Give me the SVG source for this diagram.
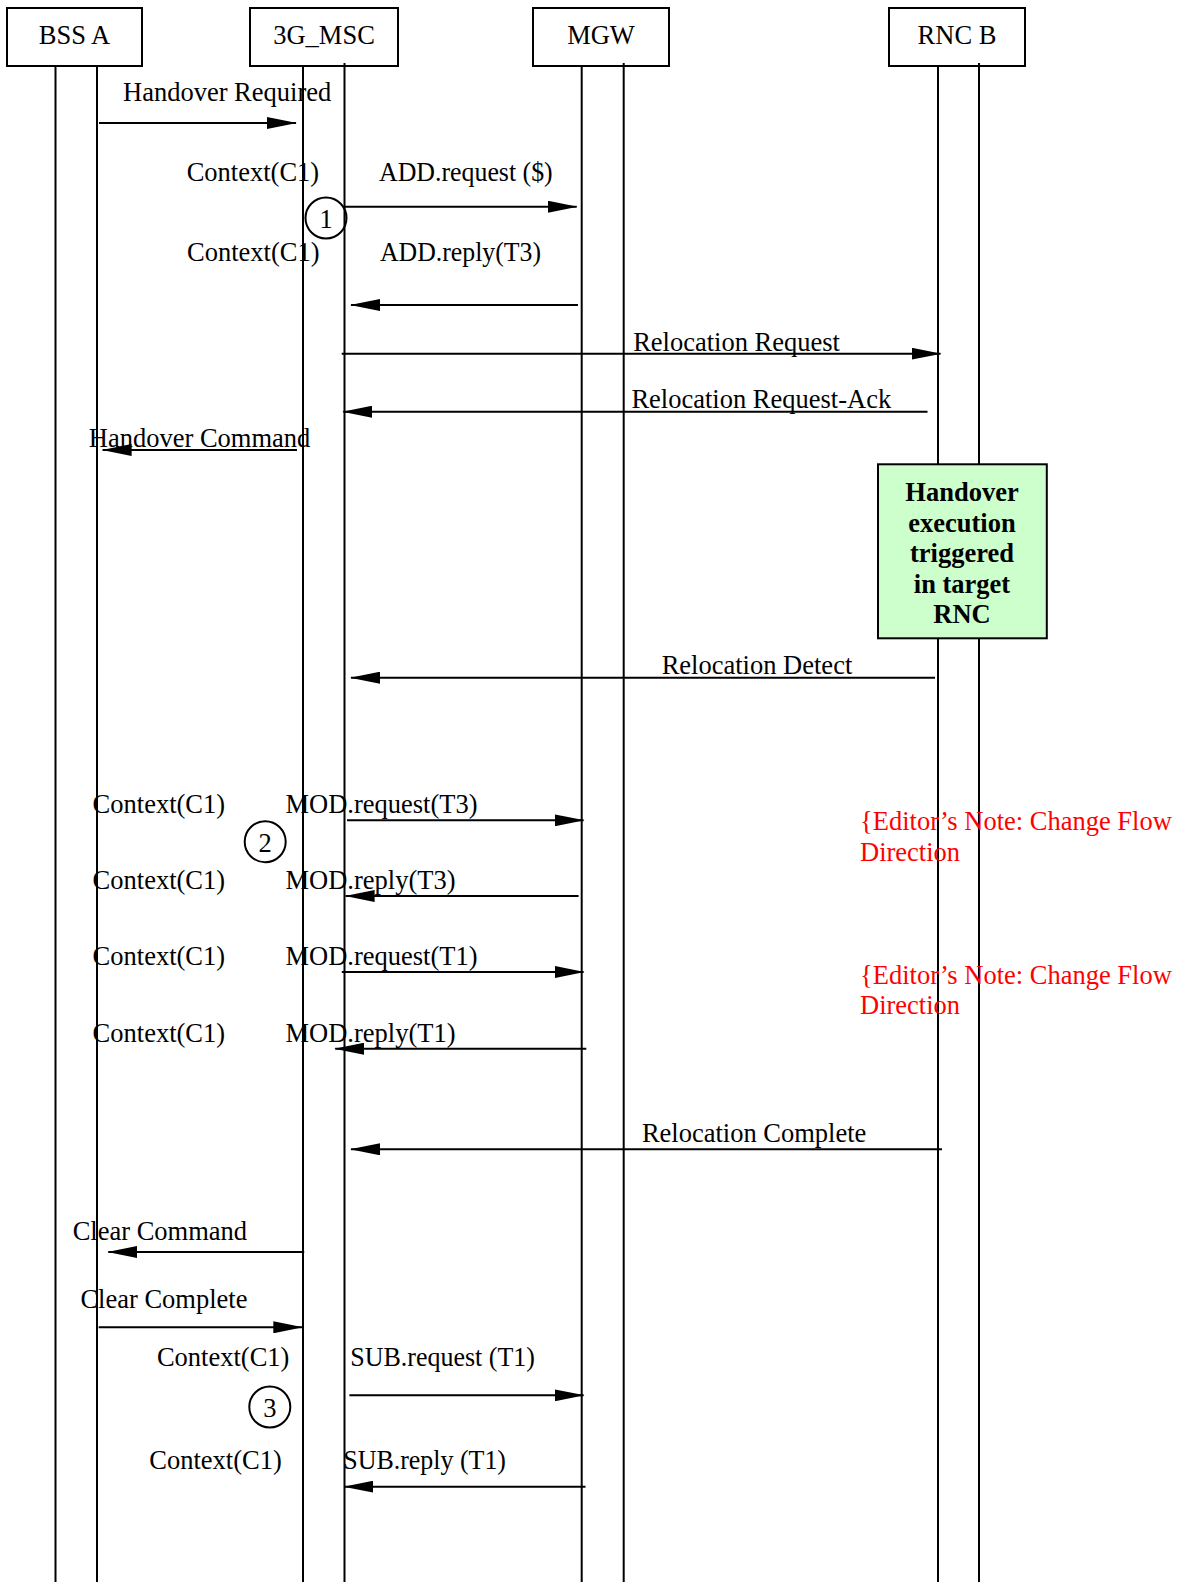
<svg xmlns="http://www.w3.org/2000/svg" width="1179" height="1582" viewBox="0 0 1179 1582">
  <style>
    text { font-family: "Liberation Serif", "Times New Roman", serif; font-size: 26.5px; fill: #000; }
    .hdr { text-anchor: middle; }
    .note { fill: #ff0000; }
    .bold { font-weight: bold; text-anchor: middle; }
    .box { fill: #fff; stroke: #000; stroke-width: 2; }
    .life { stroke: #000; stroke-width: 2; fill: none; }
    .msg { stroke: #000; stroke-width: 2; fill: none; marker-end: url(#head); }
    .step { fill: none; stroke: #000; stroke-width: 2; }
    .action { fill: #ccffcc; stroke: #000; stroke-width: 2; }
  </style>
  <defs>
    <marker id="head" markerUnits="userSpaceOnUse" markerWidth="30" markerHeight="12" refX="29" refY="6" orient="auto">
      <path d="M0,0 L30,6 L0,12 z" fill="#000"/>
    </marker>
  </defs>
  <rect width="1179" height="1582" fill="#fff"/>

  <!-- participants with their lifelines -->
  <g id="bss-a">
    <line class="life" x1="55.5" y1="66" x2="55.5" y2="1582"/>
    <line class="life" x1="97" y1="66" x2="97" y2="1582"/>
    <rect class="box" x="7" y="8" width="135" height="58"/>
    <text class="hdr" x="74.5" y="44.3">BSS A</text>
  </g>
  <g id="msc">
    <line class="life" x1="303" y1="66" x2="303" y2="1582"/>
    <rect class="box" x="250" y="8" width="148" height="58"/>
    <line class="life" x1="344.5" y1="63" x2="344.5" y2="1582"/>
    <text class="hdr" x="324" y="44.3">3G_MSC</text>
  </g>
  <g id="mgw">
    <line class="life" x1="581.7" y1="66" x2="581.7" y2="1582"/>
    <rect class="box" x="533" y="8" width="136" height="58"/>
    <line class="life" x1="623.7" y1="63" x2="623.7" y2="1582"/>
    <text class="hdr" x="601" y="44.3">MGW</text>
  </g>
  <g id="rnc-b">
    <line class="life" x1="938" y1="66" x2="938" y2="1582"/>
    <rect class="box" x="889" y="8" width="136" height="58"/>
    <line class="life" x1="979" y1="63" x2="979" y2="1582"/>
    <text class="hdr" x="957" y="44.3">RNC B</text>
  </g>

  <!-- action box on RNC B -->
  <g id="handover-execution">
    <rect class="action" x="878" y="464.3" width="168.8" height="174"/>
    <text class="bold" x="962" y="501">Handover</text>
    <text class="bold" x="962" y="531.5">execution</text>
    <text class="bold" x="962" y="562">triggered</text>
    <text class="bold" x="962" y="592.5">in target</text>
    <text class="bold" x="962" y="623">RNC</text>
  </g>

  <!-- numbered step markers -->
  <g id="step-1">
    <circle class="step" cx="326" cy="218" r="20.5"/>
    <text x="326" y="228" text-anchor="middle">1</text>
  </g>
  <g id="step-2">
    <circle class="step" cx="265.2" cy="841.7" r="20.5"/>
    <text x="265.2" y="851.7" text-anchor="middle">2</text>
  </g>
  <g id="step-3">
    <circle class="step" cx="269.8" cy="1407" r="20.5"/>
    <text x="269.8" y="1417" text-anchor="middle">3</text>
  </g>

  <!-- messages -->
  <g id="connectors">
    <line class="msg" x1="99" y1="123" x2="296" y2="123"/>
    <line class="msg" x1="344" y1="206.7" x2="576.7" y2="206.7"/>
    <line class="msg" x1="578" y1="305" x2="351" y2="305"/>
    <line class="msg" x1="341.7" y1="353.7" x2="940.5" y2="353.7"/>
    <line class="msg" x1="927.5" y1="411.7" x2="343.3" y2="411.7"/>
    <line class="msg" x1="297" y1="450" x2="102.6" y2="450"/>
    <line class="msg" x1="935" y1="677.7" x2="351" y2="677.7"/>
    <line class="msg" x1="347" y1="820.3" x2="583.6" y2="820.3"/>
    <line class="msg" x1="578.6" y1="896" x2="345.6" y2="896"/>
    <line class="msg" x1="341.8" y1="972" x2="583.6" y2="972"/>
    <line class="msg" x1="586.3" y1="1048.7" x2="335.2" y2="1048.7"/>
    <line class="msg" x1="942" y1="1149.3" x2="351" y2="1149.3"/>
    <line class="msg" x1="304.2" y1="1252" x2="108.3" y2="1252"/>
    <line class="msg" x1="98.7" y1="1327.3" x2="302.3" y2="1327.3"/>
    <line class="msg" x1="349.4" y1="1395.3" x2="583.6" y2="1395.3"/>
    <line class="msg" x1="585.5" y1="1486.7" x2="344.4" y2="1486.7"/>
  </g>

  <!-- message labels -->
  <g id="labels">
    <text x="123" y="101">Handover Required</text>
    <text x="186.7" y="181">Context(C1)</text>
    <text x="379" y="181" textLength="173.7" lengthAdjust="spacingAndGlyphs">ADD.request ($)</text>
    <text x="187" y="261">Context(C1)</text>
    <text x="380" y="261" textLength="161" lengthAdjust="spacingAndGlyphs">ADD.reply(T3)</text>
    <text x="633.2" y="351">Relocation Request</text>
    <text x="631.4" y="408.3">Relocation Request-Ack</text>
    <text x="88.8" y="446.7">Handover Command</text>
    <text x="661.7" y="674.2">Relocation Detect</text>
    <text x="92.6" y="812.7">Context(C1)</text>
    <text x="285.5" y="812.7">MOD.request(T3)</text>
    <text x="92.6" y="888.7">Context(C1)</text>
    <text x="285.5" y="888.7">MOD.reply(T3)</text>
    <text x="92.6" y="965">Context(C1)</text>
    <text x="285.5" y="965">MOD.request(T1)</text>
    <text x="92.6" y="1042">Context(C1)</text>
    <text x="285.5" y="1042">MOD.reply(T1)</text>
    <text x="641.9" y="1141.7">Relocation Complete</text>
    <text x="72.7" y="1240.3">Clear Command</text>
    <text x="80.4" y="1308.3">Clear Complete</text>
    <text x="156.9" y="1366">Context(C1)</text>
    <text x="350.2" y="1366" textLength="184.8" lengthAdjust="spacingAndGlyphs">SUB.request (T1)</text>
    <text x="149.3" y="1468.7">Context(C1)</text>
    <text x="343.3" y="1468.7" textLength="162.7" lengthAdjust="spacingAndGlyphs">SUB.reply (T1)</text>
  </g>

  <!-- editorial notes -->
  <g id="notes">
    <text class="note" x="860" y="830.3">{Editor’s Note: Change Flow</text>
    <text class="note" x="860" y="861">Direction</text>
    <text class="note" x="860" y="983.7">{Editor’s Note: Change Flow</text>
    <text class="note" x="860" y="1014.3">Direction</text>
  </g>
</svg>
